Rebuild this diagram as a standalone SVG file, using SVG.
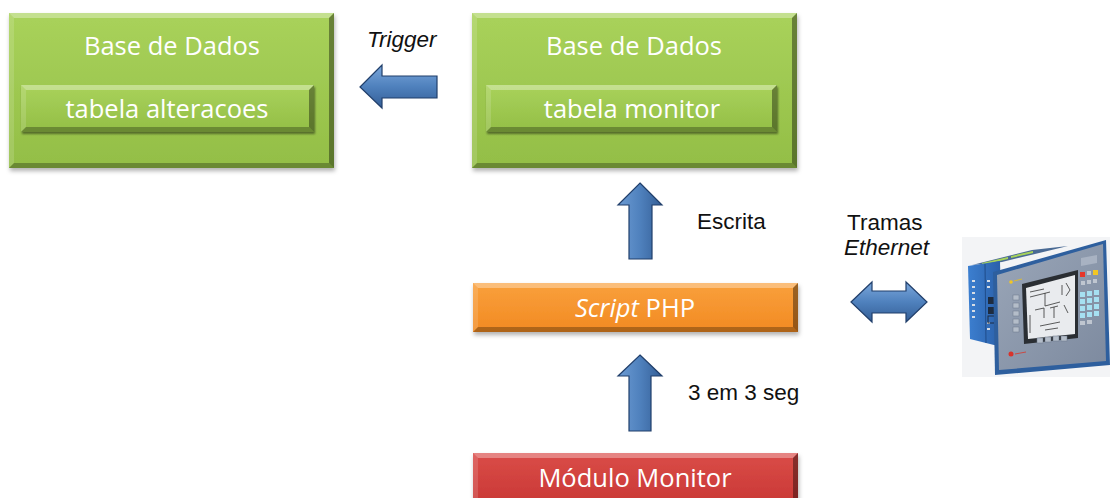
<svg xmlns="http://www.w3.org/2000/svg" width="1111" height="498" viewBox="0 0 1111 498">
  <defs>
    <linearGradient id="gGreen" x1="0" y1="0" x2="0" y2="1">
      <stop offset="0" stop-color="#A9D25B"/>
      <stop offset="1" stop-color="#93BE46"/>
    </linearGradient>
    <linearGradient id="gOrange" x1="0" y1="0" x2="0" y2="1">
      <stop offset="0" stop-color="#F9A03C"/>
      <stop offset="1" stop-color="#F28A22"/>
    </linearGradient>
    <linearGradient id="gRed" x1="0" y1="0" x2="0" y2="1">
      <stop offset="0" stop-color="#DA4C48"/>
      <stop offset="1" stop-color="#C93835"/>
    </linearGradient>
    <linearGradient id="gArrowH" x1="0" y1="0" x2="0" y2="1">
      <stop offset="0" stop-color="#7BA7DB"/>
      <stop offset="0.5" stop-color="#4F81BD"/>
      <stop offset="1" stop-color="#345E96"/>
    </linearGradient>
    <linearGradient id="gArrowV" x1="0" y1="0" x2="1" y2="0">
      <stop offset="0" stop-color="#6C9BD3"/>
      <stop offset="0.5" stop-color="#4F81BD"/>
      <stop offset="1" stop-color="#345E96"/>
    </linearGradient>
    <linearGradient id="gPanel" x1="0" y1="0" x2="1" y2="1">
      <stop offset="0" stop-color="#9AA6B8"/>
      <stop offset="1" stop-color="#7D8A9F"/>
    </linearGradient>
    <linearGradient id="gSide" x1="0" y1="0" x2="1" y2="0">
      <stop offset="0" stop-color="#3C7FD0"/>
      <stop offset="1" stop-color="#2A5FA8"/>
    </linearGradient>
    <filter id="shadow" x="-5%" y="-10%" width="110%" height="130%">
      <feDropShadow dx="1" dy="3" stdDeviation="2" flood-color="#000" flood-opacity="0.3"/>
    </filter>
    <filter id="soft" x="-5%" y="-10%" width="110%" height="130%">
      <feDropShadow dx="1" dy="2" stdDeviation="1.2" flood-color="#000" flood-opacity="0.45"/>
    </filter>
  </defs>
  <style>
    .green { fill: url(#gGreen); }
    .orange { fill: url(#gOrange); }
    .red { fill: url(#gRed); }
    .bt { fill: #fff; fill-opacity: 0.32; }
    .bl { fill: #fff; fill-opacity: 0.14; }
    .br { fill: #000; fill-opacity: 0.38; }
    .bb { fill: #000; fill-opacity: 0.28; }
    .boxtxt { font-family: "Open Sans", "Noto Sans", sans-serif; font-size: 25.5px; fill: #fff; text-anchor: middle; }
    .lbl { font-family: "Liberation Sans", Arial, sans-serif; font-size: 22.5px; fill: #111; }
    .it { font-style: italic; }
    .arrowH { fill: url(#gArrowH); stroke: #213F6B; stroke-width: 1.2; stroke-linejoin: miter; }
    .arrowV { fill: url(#gArrowV); stroke: #213F6B; stroke-width: 1.2; stroke-linejoin: miter; }
  </style>

  <!-- database holding the change log -->
  <g id="db-alteracoes">
    <g filter="url(#shadow)">
      <rect class="green" x="9" y="13" width="325" height="155"/>
    </g>
    <polygon class="bt" points="9,13 334,13 329,18 14,18"/>
    <polygon class="bl" points="9,13 14,18 14,163 9,168"/>
    <polygon class="br" points="334,13 334,168 329,163 329,18"/>
    <polygon class="bb" points="9,168 334,168 329,163 14,163"/>
    <text class="boxtxt" x="172" y="55">Base de Dados</text>
    <g id="tbl-alteracoes">
      <g filter="url(#soft)">
        <rect class="green" x="21" y="85" width="293" height="47"/>
      </g>
      <polygon class="bt" points="21,85 314,85 309,90 26,90"/>
      <polygon class="bl" points="21,85 26,90 26,127 21,132"/>
      <polygon class="br" points="314,85 314,132 309,127 309,90"/>
      <polygon class="bb" points="21,132 314,132 309,127 26,127"/>
      <text class="boxtxt" x="167" y="118">tabela alteracoes</text>
    </g>
  </g>

  <!-- database holding the monitor table -->
  <g id="db-monitor">
    <g filter="url(#shadow)">
      <rect class="green" x="472" y="13" width="325" height="155"/>
    </g>
    <polygon class="bt" points="472,13 797,13 792,18 477,18"/>
    <polygon class="bl" points="472,13 477,18 477,163 472,168"/>
    <polygon class="br" points="797,13 797,168 792,163 792,18"/>
    <polygon class="bb" points="472,168 797,168 792,163 477,163"/>
    <text class="boxtxt" x="634" y="55">Base de Dados</text>
    <g id="tbl-monitor">
      <g filter="url(#soft)">
        <rect class="green" x="486" y="85" width="291" height="47"/>
      </g>
      <polygon class="bt" points="486,85 777,85 772,90 491,90"/>
      <polygon class="bl" points="486,85 491,90 491,127 486,132"/>
      <polygon class="br" points="777,85 777,132 772,127 772,90"/>
      <polygon class="bb" points="486,132 777,132 772,127 491,127"/>
      <text class="boxtxt" x="632" y="118">tabela monitor</text>
    </g>
  </g>

  <!-- PHP script -->
  <g id="script-php">
    <g filter="url(#shadow)">
      <rect class="orange" x="473" y="283" width="325" height="49"/>
    </g>
    <polygon class="bt" points="473,283 798,283 793,288 478,288"/>
    <polygon class="bl" points="473,283 478,288 478,327 473,332"/>
    <polygon class="br" points="798,283 798,332 793,327 793,288"/>
    <polygon class="bb" points="473,332 798,332 793,327 478,327"/>
    <text class="boxtxt" x="635" y="317"><tspan class="it">Script</tspan> PHP</text>
  </g>

  <!-- monitor module -->
  <g id="modulo-monitor">
    <g filter="url(#shadow)">
      <rect class="red" x="473" y="453" width="325" height="52"/>
    </g>
    <polygon class="bt" points="473,453 798,453 793,458 478,458"/>
    <polygon class="bl" points="473,453 478,458 478,505 473,505"/>
    <polygon class="br" points="798,453 798,505 793,505 793,458"/>
    <text class="boxtxt" x="635" y="487">Módulo Monitor</text>
  </g>

  <!-- PLC with operator panel -->
  <g id="plc">
    <rect x="962" y="237" width="148" height="140" fill="#F3F4F6"/>
    <!-- housing top -->
    <polygon points="972,265 1032,250 1068,246 1002,262" fill="#4A6A94"/>
    <polygon points="982,263 1008,257 1008,259 982,265" fill="#A6D25A"/>
    <polygon points="1011,256 1033,251 1033,253 1011,258" fill="#A6D25A"/>
    <!-- side I/O module -->
    <polygon points="968,266 1000,261 1002,347 970,339" fill="url(#gSide)"/>
    <line x1="985" y1="264" x2="986" y2="343" stroke="#1F4C8A" stroke-width="1"/>
    <g fill="#D8DDE4">
      <rect x="972" y="280" width="3" height="2"/>
      <rect x="972" y="286" width="3" height="2"/>
      <rect x="972" y="292" width="3" height="2"/>
      <rect x="972" y="298" width="3" height="2"/>
      <rect x="972" y="304" width="3" height="2"/>
      <rect x="972" y="310" width="3" height="2"/>
      <rect x="972" y="316" width="3" height="2"/>
      <rect x="987" y="280" width="3" height="2"/>
      <rect x="987" y="286" width="3" height="2"/>
      <rect x="987" y="322" width="3" height="2"/>
      <rect x="987" y="328" width="3" height="2"/>
    </g>
    <g fill="#1E2C40">
      <rect x="988" y="297" width="8" height="7"/>
      <rect x="988" y="307" width="8" height="7"/>
    </g>
    <rect x="988" y="316" width="8" height="7" fill="none" stroke="#1E2C40" stroke-width="1"/>
    <!-- front bezel -->
    <polygon points="993,272 1106,240 1110,365 995,375" fill="#2E5F9E"/>
    <polygon points="997,275 1103,244 1106,361 999,370" fill="url(#gPanel)"/>
    <!-- screen -->
    <polygon points="1022,284 1078,270 1078,338 1024,344" fill="#2A2E33"/>
    <polygon points="1026,288 1075,275 1075,334 1028,339" fill="#E9EBEE"/>
    <g stroke="#333" stroke-width="0.8" fill="none">
      <path d="M1030,292 L1044,289 M1030,297 L1050,292 M1045,293 L1045,306 L1060,302 M1062,285 L1062,295 M1066,283 L1070,290 L1066,296"/>
      <path d="M1035,310 L1044,308 L1044,318 M1050,308 L1058,306 M1054,307 L1054,318 M1064,305 L1068,313"/>
      <path d="M1040,326 L1060,322 M1045,330 L1058,328 M1030,315 L1030,333"/>
    </g>
    <!-- left and bottom soft keys -->
    <g fill="#B4BDC9" stroke="#6B778A" stroke-width="0.5">
      <rect x="1013" y="295" width="6" height="5"/>
      <rect x="1013" y="303" width="6" height="5"/>
      <rect x="1013" y="311" width="6" height="5"/>
      <rect x="1013" y="319" width="6" height="5"/>
      <rect x="1013" y="327" width="6" height="5"/>
      <rect x="1037" y="338" width="6" height="5"/>
      <rect x="1045" y="337" width="6" height="5"/>
      <rect x="1053" y="336" width="6" height="5"/>
      <rect x="1061" y="336" width="6" height="5"/>
    </g>
    <!-- status window and function keys -->
    <polygon points="1081,258 1097,255 1097,263 1081,266" fill="#A8B2C2"/>
    <rect x="1080" y="272" width="5" height="5" fill="#E7352A"/>
    <rect x="1087" y="271" width="4" height="4" fill="#BFC6D0"/>
    <rect x="1093" y="270" width="5" height="5" fill="#F2C623"/>
    <g fill="#BFC6D0">
      <rect x="1081" y="281" width="4" height="4"/>
      <rect x="1087" y="280" width="4" height="4"/>
      <rect x="1093" y="279" width="4" height="4"/>
    </g>
    <!-- keypad -->
    <g fill="#A6E0F2">
      <rect x="1080" y="292" width="5" height="5"/>
      <rect x="1087" y="291" width="5" height="5"/>
      <rect x="1094" y="290" width="5" height="5"/>
      <rect x="1080" y="299" width="5" height="5"/>
      <rect x="1087" y="298" width="5" height="5"/>
      <rect x="1094" y="297" width="5" height="5"/>
      <rect x="1080" y="306" width="5" height="5"/>
      <rect x="1087" y="305" width="5" height="5"/>
      <rect x="1094" y="304" width="5" height="5"/>
      <rect x="1080" y="313" width="5" height="5"/>
      <rect x="1087" y="312" width="5" height="5"/>
      <rect x="1094" y="311" width="5" height="5"/>
    </g>
    <g fill="#BFC6D0">
      <rect x="1080" y="321" width="5" height="4"/>
      <rect x="1087" y="320" width="5" height="4"/>
    </g>
    <!-- brand marks -->
    <circle cx="1011" cy="282" r="1.8" fill="#F2C623"/>
    <line x1="1014" y1="281" x2="1022" y2="279" stroke="#D9B93A" stroke-width="1"/>
    <circle cx="1011" cy="354" r="2.5" fill="#D8332B"/>
    <line x1="1015" y1="354" x2="1026" y2="352" stroke="#C94A44" stroke-width="1"/>
  </g>

  <!-- connectors -->
  <g id="connectors">
    <polygon class="arrowH" points="360,87 382,65 382,76 437,76 437,98 382,98 382,108"/>
    <polygon class="arrowV" points="640,183 662,205 652,205 652,259 629,259 629,205 618,205"/>
    <polygon class="arrowV" points="640,355 662,376 651,376 651,431 629,431 629,376 618,376"/>
    <polygon class="arrowH" points="851,302 872,282 872,291 906,291 906,282 927,302 906,322 906,313 872,313 872,322"/>
  </g>

  <!-- connector labels -->
  <text class="lbl it" x="367" y="47">Trigger</text>
  <text class="lbl" x="697" y="229">Escrita</text>
  <text class="lbl" x="847" y="230">Tramas</text>
  <text class="lbl it" x="844" y="255">Ethernet</text>
  <text class="lbl" x="688" y="400">3 em 3 seg</text>
</svg>
